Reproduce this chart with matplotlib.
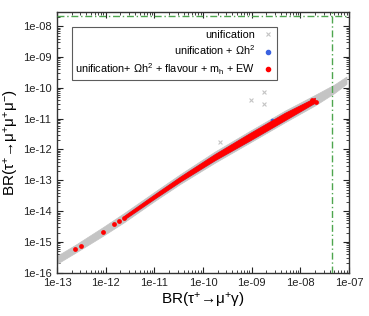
import matplotlib
matplotlib.use("Agg")
import matplotlib.pyplot as plt
from matplotlib.ticker import LogLocator, FuncFormatter, NullFormatter
from matplotlib.lines import Line2D
import numpy as np

plt.rcParams['font.family'] = ['Liberation Sans', 'DejaVu Sans']
plt.rcParams['mathtext.fontset'] = 'custom'
plt.rcParams['mathtext.rm'] = 'Liberation Sans'
plt.rcParams['mathtext.it'] = 'Liberation Sans:italic'
plt.rcParams['mathtext.default'] = 'regular'

# ---- data ----
# "unification" band (grey): lower / upper edge of the dense cloud
uni_x  = [1.0e-13, 2.34e-13, 8.8e-13, 2.4e-12, 1.02e-11, 3.4e-11, 1.74e-10, 9.1e-10, 4.8e-9, 2.0e-8, 5.0e-8, 8.9e-8]
uni_lo = [1.95e-16, 4.37e-16, 1.58e-15, 4.37e-15, 2.14e-14, 7.6e-14, 3.7e-13, 1.66e-12, 7.6e-12, 2.69e-11, 6.8e-11, 1.35e-10]
uni_hi = [3.55e-16, 7.9e-16, 3.02e-15, 8.7e-15, 4.27e-14, 1.58e-13, 8.5e-13, 3.98e-12, 1.82e-11, 5.9e-11, 1.29e-10, 2.34e-10]
# isolated "unification" points
uni_out_x = [9.5e-10, 1.8e-9, 1.8e-9, 2.2e-10]
uni_out_y = [3.9e-11, 7.4e-11, 2.9e-11, 1.8e-12]

# "unification + Oh2" band (blue, mostly hidden under the red one)
dm_x  = [2.4e-12, 1.02e-11, 3.4e-11, 1.74e-10, 9.1e-10, 4.8e-9, 2.0e-8]
dm_lo = [5.1e-15, 2.45e-14, 8.7e-14, 4.27e-13, 1.86e-12, 8.5e-12, 3.16e-11]
dm_hi = [7.4e-15, 3.72e-14, 1.38e-13, 7.4e-13, 3.55e-12, 1.62e-11, 5.0e-11]
dm_pts_x = [2.6e-9]
dm_pts_y = [9.1e-12]

# "all constraints" band (red) and isolated red points
all_x  = [2.4e-12, 1.02e-11, 3.4e-11, 1.74e-10, 9.1e-10, 4.8e-9, 2.0e-8]
all_lo = [5.4e-15, 2.57e-14, 9.1e-14, 4.47e-13, 1.95e-12, 8.9e-12, 3.31e-11]
all_hi = [7.1e-15, 3.55e-14, 1.32e-13, 7.08e-13, 3.39e-12, 1.55e-11, 4.79e-11]
all_pts_x = [2.3e-13, 3.1e-13, 8.7e-13, 1.5e-12, 1.9e-12, 2.4e-12, 1.7e-8, 2.1e-8]
all_pts_y = [5.9e-16, 7.6e-16, 2.1e-15, 3.8e-15, 4.6e-15, 5.9e-15, 3.9e-11, 3.6e-11]

# experimental limits
lim_mugamma = 4.4e-8
lim_3mu = 2.1e-8

labels = ['unification',
          r'unification + Ωh$^{2}$',
          r'unification+ Ωh$^{2}$ + flavour + m$_{h}$ + EW']

grey = '#c4c4c4'
blue = '#3a62e0'
red = '#ff0000'
green = '#4ea64e'

fig = plt.figure(figsize=(3.69, 3.16), dpi=100)
ax = fig.add_axes([0.1545, 0.137, 0.7913, 0.825])
ax.set_xscale('log')
ax.set_yscale('log')

ax.fill_between(uni_x, uni_lo, uni_hi, color=grey, lw=0.5, zorder=2)
ax.scatter(uni_out_x, uni_out_y, marker='x', s=8, color=grey, lw=0.8, zorder=2)
ax.fill_between(dm_x, dm_lo, dm_hi, color=blue, alpha=0.4, lw=0, zorder=3)
ax.scatter(dm_pts_x, dm_pts_y, marker='o', s=7, color=blue, lw=0, zorder=3)
ax.fill_between(all_x, all_lo, all_hi, color=red, lw=0.5, zorder=4)
ax.scatter(all_pts_x, all_pts_y, marker='o', s=12, color=red, lw=0, zorder=4)

ax.axhline(lim_3mu, color=green, lw=1.0, ls=(0, (5, 2, 1, 2)), zorder=5)
ax.axvline(lim_mugamma, color=green, lw=1.0, ls=(0, (5, 2, 1, 2)), zorder=5)

ax.set_xlim(1e-13, 1e-7)
ax.set_ylim(1e-16, 2.9e-8)

def fmt(v, pos):
    e = int(round(np.log10(v)))
    return '1e-%02d' % (-e)

for axis in (ax.xaxis, ax.yaxis):
    axis.set_major_locator(LogLocator(base=10, numticks=20))
    axis.set_minor_locator(LogLocator(base=10, subs=np.arange(2, 10), numticks=20))
    axis.set_major_formatter(FuncFormatter(fmt))
    axis.set_minor_formatter(NullFormatter())

ax.tick_params(which='both', direction='in', top=True, right=True, labelsize=8, colors='#222222')
ax.tick_params(which='major', length=4, width=0.8, pad=4)
ax.tick_params(which='minor', length=2, width=0.6)
for s in ax.spines.values():
    s.set_linewidth(1.0)
    s.set_color('#333333')

ax.set_xlabel('BR(τ$^{+}$→μ$^{+}$γ)', fontsize=11, labelpad=2)
ax.set_ylabel('BR(τ$^{+}$→μ$^{+}$μ$^{+}$μ$^{-}$)', fontsize=11, labelpad=1)

handles = [Line2D([], [], ls='none', marker='x', ms=3, mew=0.8, color=grey),
           Line2D([], [], ls='none', marker='o', ms=3, color=blue),
           Line2D([], [], ls='none', marker='o', ms=3, color=red)]
leg = ax.legend(handles, labels, loc='upper left', bbox_to_anchor=(0.051, 0.944),
                markerfirst=False, fontsize=7.8, frameon=True, fancybox=False,
                handlelength=1.0, handletextpad=0.7, borderpad=0.3, labelspacing=0.35,
                borderaxespad=0)
leg.get_frame().set_edgecolor('#333333')
leg.get_frame().set_linewidth(0.8)

fig.savefig('out.png', dpi=100)
